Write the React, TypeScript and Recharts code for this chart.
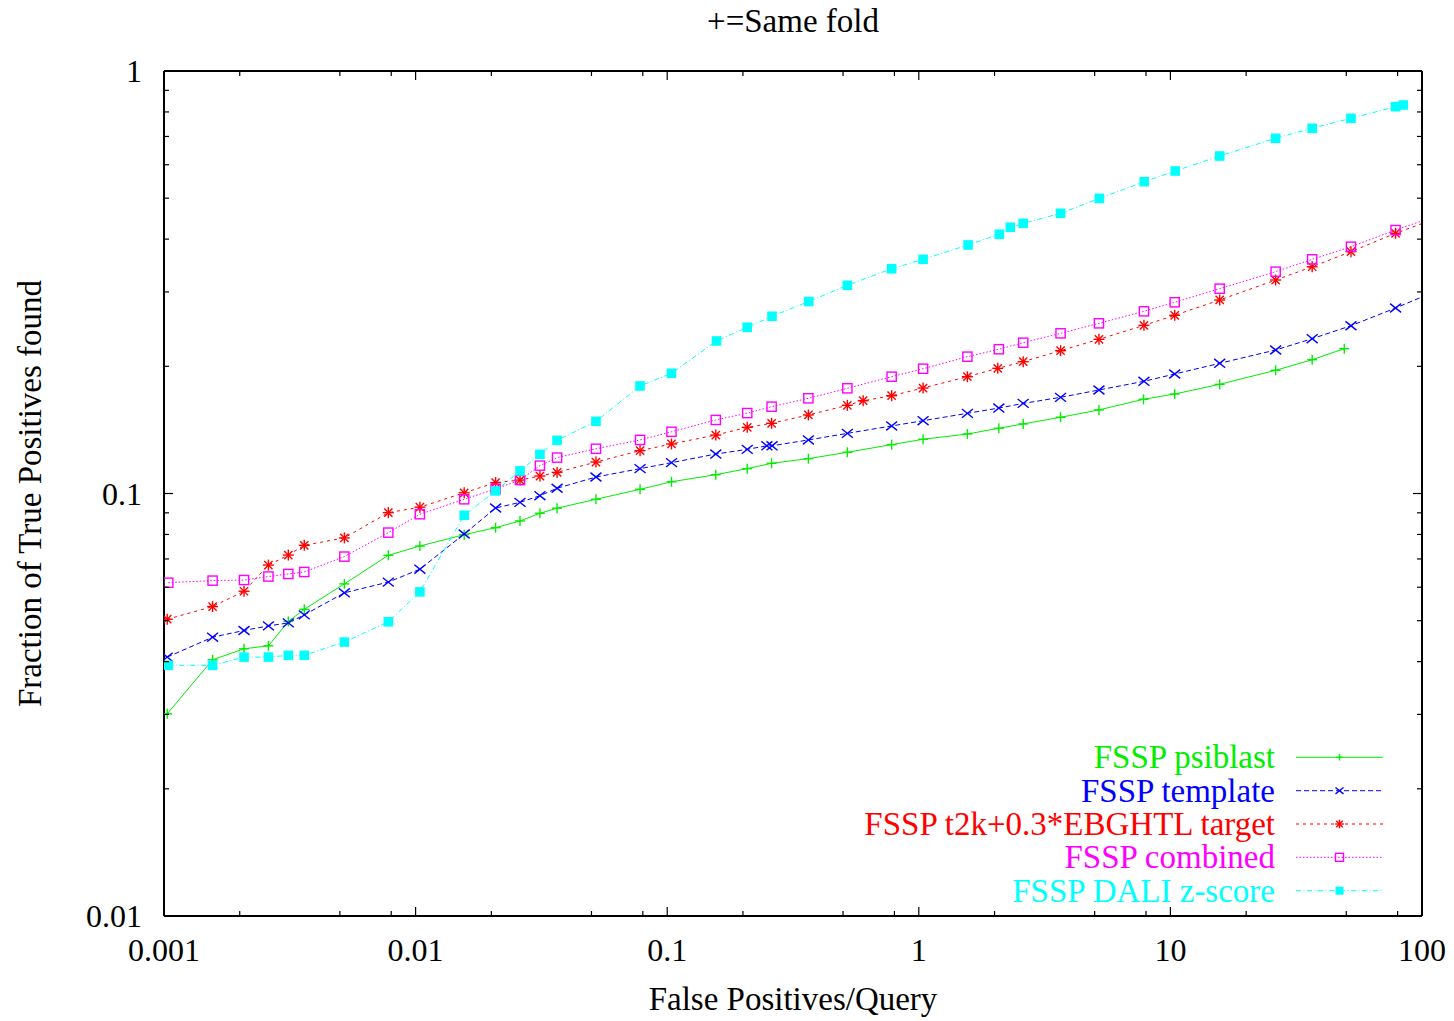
import React from 'react';
import { LineChart, Line, XAxis, YAxis, Legend } from 'recharts';

const FONT = '"Liberation Serif", "Times New Roman", Times, serif';

// ---------- data ----------
const psiblastX = [0.00103, 0.00156, 0.00208, 0.0026, 0.00312, 0.00361, 0.00521, 0.00779, 0.0104, 0.0156, 0.0208, 0.026, 0.0312, 0.0365, 0.0521, 0.078, 0.104, 0.156, 0.208, 0.26, 0.364, 0.52, 0.78, 1.04, 1.56, 2.08, 2.6, 3.66, 5.2, 7.82, 10.4, 15.7, 26.2, 36.6, 49.1];
const psiblastY = [0.0301, 0.0404, 0.0429, 0.0436, 0.0498, 0.0532, 0.0611, 0.0714, 0.0751, 0.0799, 0.083, 0.0861, 0.0898, 0.0923, 0.0969, 0.1023, 0.1066, 0.1108, 0.1145, 0.1179, 0.1209, 0.1252, 0.1305, 0.1344, 0.1383, 0.1427, 0.1461, 0.1515, 0.1577, 0.1671, 0.172, 0.1813, 0.1957, 0.2073, 0.2202];

const templateX = [0.00103, 0.00156, 0.00208, 0.0026, 0.00312, 0.00361, 0.00521, 0.00779, 0.0104, 0.0156, 0.0208, 0.026, 0.0312, 0.0365, 0.0521, 0.078, 0.104, 0.156, 0.208, 0.249, 0.261, 0.364, 0.52, 0.78, 1.04, 1.56, 2.08, 2.6, 3.66, 5.2, 7.85, 10.4, 15.7, 26.2, 36.6, 52.2, 78.5, 150];
const templateY = [0.041, 0.0457, 0.0474, 0.0486, 0.0494, 0.0516, 0.0582, 0.0617, 0.0662, 0.0802, 0.0924, 0.0953, 0.0988, 0.1029, 0.1094, 0.1145, 0.1183, 0.124, 0.1272, 0.1297, 0.1297, 0.1339, 0.1388, 0.1445, 0.1487, 0.1548, 0.1593, 0.1634, 0.1689, 0.1758, 0.1843, 0.1918, 0.2033, 0.2186, 0.2325, 0.2495, 0.2748, 0.323];

const targetX = [0.00103, 0.00156, 0.00208, 0.0026, 0.00312, 0.00361, 0.00521, 0.00779, 0.0104, 0.0156, 0.0208, 0.026, 0.0312, 0.0365, 0.0521, 0.078, 0.104, 0.156, 0.208, 0.26, 0.364, 0.52, 0.601, 0.78, 1.04, 1.56, 2.06, 2.6, 3.66, 5.2, 7.85, 10.4, 15.7, 26.2, 36.6, 52.2, 78.5, 150];
const targetY = [0.0504, 0.054, 0.0587, 0.0677, 0.0715, 0.0754, 0.0785, 0.0901, 0.0928, 0.1004, 0.1061, 0.1076, 0.11, 0.1122, 0.1187, 0.1263, 0.131, 0.1375, 0.1434, 0.1466, 0.1534, 0.1617, 0.1658, 0.1704, 0.1777, 0.189, 0.1978, 0.2051, 0.2178, 0.2317, 0.25, 0.2641, 0.2871, 0.3201, 0.3441, 0.3736, 0.4129, 0.476];

const combinedX = [0.00104, 0.00156, 0.00208, 0.0026, 0.00312, 0.00361, 0.00521, 0.00779, 0.0104, 0.0156, 0.0208, 0.026, 0.0312, 0.0365, 0.0521, 0.078, 0.104, 0.156, 0.208, 0.26, 0.364, 0.52, 0.78, 1.04, 1.56, 2.08, 2.6, 3.66, 5.2, 7.85, 10.4, 15.7, 26.2, 36.6, 52.2, 78.5, 150];
const combinedY = [0.0615, 0.0622, 0.0624, 0.0636, 0.0645, 0.0652, 0.0709, 0.0808, 0.0893, 0.0969, 0.1025, 0.1076, 0.1164, 0.1216, 0.1276, 0.1339, 0.14, 0.1493, 0.155, 0.1605, 0.168, 0.1774, 0.189, 0.1974, 0.2108, 0.2195, 0.2275, 0.2394, 0.2528, 0.2699, 0.2835, 0.3053, 0.335, 0.3583, 0.3838, 0.4203, 0.48];

const daliX = [0.00104, 0.00156, 0.00208, 0.0026, 0.00312, 0.00361, 0.00521, 0.00779, 0.0104, 0.0156, 0.0208, 0.026, 0.0312, 0.0365, 0.0521, 0.078, 0.104, 0.157, 0.208, 0.261, 0.365, 0.52, 0.78, 1.04, 1.57, 2.09, 2.31, 2.6, 3.66, 5.22, 7.87, 10.45, 15.7, 26.2, 36.6, 52.2, 78.5, 84.3];
const daliY = [0.0392, 0.0392, 0.041, 0.041, 0.0414, 0.0414, 0.0445, 0.0497, 0.0585, 0.0888, 0.1014, 0.1131, 0.1238, 0.1336, 0.1482, 0.1797, 0.1925, 0.2296, 0.2474, 0.2627, 0.2847, 0.311, 0.3404, 0.3583, 0.3875, 0.4108, 0.4267, 0.436, 0.4604, 0.4995, 0.547, 0.5798, 0.6292, 0.693, 0.7318, 0.7727, 0.8233, 0.831];

const xTicks = [0.001, 0.002, 0.005, 0.008, 0.01, 0.02, 0.05, 0.08, 0.1, 0.2, 0.5, 0.8, 1, 2, 5, 8, 10, 20, 50, 80, 100];
const xMajor = [0.001, 0.01, 0.1, 1, 10, 100];
const xMajorLabels = ['0.001', '0.01', '0.1', '1', '10', '100'];
const yTicks = [0.01, 0.02, 0.03, 0.04, 0.05, 0.06, 0.07, 0.08, 0.09, 0.1, 0.2, 0.3, 0.4, 0.5, 0.6, 0.7, 0.8, 0.9, 1];
const yMajor = [0.01, 0.1, 1];
const yMajorLabels = ['0.01', '0.1', '1'];

const zip = (xs: number[], ys: number[]) => xs.map((x, i) => ({ x, y: ys[i] }));

type Shape = 'plus' | 'cross' | 'star' | 'box' | 'fbox';

const series = [
  { name: 'FSSP psiblast', color: '#00ee00', dash: undefined as string | undefined, shape: 'plus' as Shape, size: 5, legendSize: 3.2, data: zip(psiblastX, psiblastY) },
  { name: 'FSSP template', color: '#0000ff', dash: '5 3', shape: 'cross' as Shape, size: 5.5, legendSize: 4, data: zip(templateX, templateY) },
  { name: 'FSSP t2k+0.3*EBGHTL target', color: '#ff0000', dash: '3 4', shape: 'star' as Shape, size: 5.5, legendSize: 4.3, data: zip(targetX, targetY) },
  { name: 'FSSP combined', color: '#ff00ff', dash: '1.5 2', shape: 'box' as Shape, size: 4.6, legendSize: 4, data: zip(combinedX, combinedY) },
  { name: 'FSSP DALI z-score', color: '#00ffff', dash: '5 2.5 1 2.5', shape: 'fbox' as Shape, size: 4.8, legendSize: 4, data: zip(daliX, daliY) },
];

// ---------- markers ----------
const Marker = ({ shape, cx, cy, s, color }: { shape: Shape; cx: number; cy: number; s: number; color: string }) => {
  const sw = 1.4;
  if (shape === 'plus') {
    return (
      <g stroke={color} strokeWidth={sw}>
        <line x1={cx - s} y1={cy} x2={cx + s} y2={cy} />
        <line x1={cx} y1={cy - s} x2={cx} y2={cy + s} />
      </g>
    );
  }
  if (shape === 'cross') {
    return (
      <g stroke={color} strokeWidth={sw}>
        <line x1={cx - s} y1={cy - s * 0.8} x2={cx + s} y2={cy + s * 0.8} />
        <line x1={cx - s} y1={cy + s * 0.8} x2={cx + s} y2={cy - s * 0.8} />
      </g>
    );
  }
  if (shape === 'star') {
    const d = s * 0.75;
    return (
      <g stroke={color} strokeWidth={sw}>
        <line x1={cx - s} y1={cy} x2={cx + s} y2={cy} />
        <line x1={cx} y1={cy - s} x2={cx} y2={cy + s} />
        <line x1={cx - d} y1={cy - d} x2={cx + d} y2={cy + d} />
        <line x1={cx - d} y1={cy + d} x2={cx + d} y2={cy - d} />
      </g>
    );
  }
  if (shape === 'box') {
    return <rect x={cx - s} y={cy - s} width={2 * s} height={2 * s} fill="none" stroke={color} strokeWidth={sw} />;
  }
  return <rect x={cx - s} y={cy - s} width={2 * s} height={2 * s} fill={color} stroke="none" />;
};

const makeDot = (shape: Shape, color: string, s: number) => (props: any) => {
  const { cx, cy, index, payload } = props;
  if (cx == null || cy == null || !payload || payload.x > 100 || payload.x < 0.001) {
    return <g key={`e${index}`} />;
  }
  return (
    <g key={`d${index}`}>
      <Marker shape={shape} cx={cx} cy={cy} s={s} color={color} />
    </g>
  );
};

// ---------- ticks ----------
const TICK_W = 1.2;
const MAJ = 9;
const MIN = 5;

const BottomTick = (props: any) => {
  const { x, y, payload } = props;
  const i = xMajor.indexOf(payload.value);
  const len = i >= 0 ? MAJ : MIN;
  return (
    <g>
      <line x1={x} y1={y} x2={x} y2={y - len} stroke="#000" strokeWidth={TICK_W} />
      {i >= 0 && (
        <text x={x} y={y + 45} textAnchor="middle" fontFamily={FONT} fontSize={32} fill="#000">
          {xMajorLabels[i]}
        </text>
      )}
    </g>
  );
};

const TopTick = (props: any) => {
  const { x, y, payload } = props;
  const len = xMajor.indexOf(payload.value) >= 0 ? MAJ : MIN;
  return <line x1={x} y1={y} x2={x} y2={y + len} stroke="#000" strokeWidth={TICK_W} />;
};

const LeftTick = (props: any) => {
  const { x, y, payload } = props;
  const i = yMajor.indexOf(payload.value);
  const len = i >= 0 ? MAJ : MIN;
  return (
    <g>
      <line x1={x} y1={y} x2={x + len} y2={y} stroke="#000" strokeWidth={TICK_W} />
      {i >= 0 && (
        <text x={x - 22} y={y + 11} textAnchor="end" fontFamily={FONT} fontSize={32} fill="#000">
          {yMajorLabels[i]}
        </text>
      )}
    </g>
  );
};

const RightTick = (props: any) => {
  const { x, y, payload } = props;
  const len = yMajor.indexOf(payload.value) >= 0 ? MAJ : MIN;
  return <line x1={x} y1={y} x2={x - len} y2={y} stroke="#000" strokeWidth={TICK_W} />;
};

// ---------- titles ----------
const TITLE_SIZE = 33;

const BottomTitle = (props: any) => {
  const vb = props.viewBox || { x: 164, y: 916, width: 1258 };
  return (
    <text x={vb.x + vb.width / 2} y={vb.y + 94} textAnchor="middle" fontFamily={FONT} fontSize={TITLE_SIZE} fill="#000">
      False Positives/Query
    </text>
  );
};

const TopTitle = (props: any) => {
  const vb = props.viewBox || { x: 164, y: 61, width: 1258, height: 10 };
  return (
    <text x={vb.x + vb.width / 2} y={vb.y + vb.height - 39} textAnchor="middle" fontFamily={FONT} fontSize={TITLE_SIZE} fill="#000">
      +=Same fold
    </text>
  );
};

const LeftTitle = (props: any) => {
  const vb = props.viewBox || { x: 84, y: 71, width: 80, height: 845 };
  const cx = vb.x + vb.width - 123;
  const cy = vb.y + vb.height / 2;
  return (
    <text x={cx} y={cy} transform={`rotate(-90 ${cx} ${cy})`} textAnchor="middle" fontFamily={FONT} fontSize={TITLE_SIZE} fill="#000">
      Fraction of True Positives found
    </text>
  );
};

// ---------- legend ----------
const legendRowY = [757.3, 790.7, 824, 857.3, 890.7];
const LegendBox = () => (
  <svg width={1454} height={1021} style={{ position: 'absolute', left: 0, top: 0, overflow: 'visible' }}>
    {series.map((s, i) => {
      const cy = legendRowY[i];
      return (
        <g key={s.name}>
          <text x={1275} y={cy + 11} textAnchor="end" fontFamily={FONT} fontSize={TITLE_SIZE} fill={s.color}>
            {s.name}
          </text>
          <line x1={1296} y1={cy} x2={1383} y2={cy} stroke={s.color} strokeWidth={1} strokeDasharray={s.dash} />
          <Marker shape={s.shape} cx={1339.5} cy={cy} s={s.legendSize} color={s.color} />
        </g>
      );
    })}
  </svg>
);

export default function App() {
  return (
    <div style={{ position: 'absolute', left: 0, top: 0, width: 1454, height: 1021, background: '#fff' }}>
      <LineChart width={1454} height={1021} margin={{ top: 61, right: 22, bottom: 45, left: 84 }}>
        <XAxis
          xAxisId="b"
          orientation="bottom"
          type="number"
          dataKey="x"
          scale="log"
          domain={[0.001, 100]}
          allowDataOverflow
          ticks={xTicks}
          interval={0}
          tick={<BottomTick />}
          tickLine={false}
          tickSize={0}
          tickMargin={0}
          axisLine={{ stroke: '#000', strokeWidth: 2 }}
          height={60}
          label={<BottomTitle />}
        />
        <XAxis
          xAxisId="t"
          orientation="top"
          type="number"
          dataKey="x"
          scale="log"
          domain={[0.001, 100]}
          allowDataOverflow
          ticks={xTicks}
          interval={0}
          tick={<TopTick />}
          tickLine={false}
          tickSize={0}
          tickMargin={0}
          axisLine={{ stroke: '#000', strokeWidth: 2 }}
          height={10}
          label={<TopTitle />}
        />
        <YAxis
          yAxisId="l"
          orientation="left"
          type="number"
          dataKey="y"
          scale="log"
          domain={[0.01, 1]}
          allowDataOverflow
          ticks={yTicks}
          interval={0}
          tick={<LeftTick />}
          tickLine={false}
          tickSize={0}
          tickMargin={0}
          axisLine={{ stroke: '#000', strokeWidth: 2 }}
          width={80}
          label={<LeftTitle />}
        />
        <YAxis
          yAxisId="r"
          orientation="right"
          type="number"
          dataKey="y"
          scale="log"
          domain={[0.01, 1]}
          allowDataOverflow
          ticks={yTicks}
          interval={0}
          tick={<RightTick />}
          tickLine={false}
          tickSize={0}
          tickMargin={0}
          axisLine={{ stroke: '#000', strokeWidth: 2 }}
          width={10}
        />
        {series.map((s) => (
          <Line
            key={s.name}
            xAxisId="b"
            yAxisId="l"
            data={s.data}
            dataKey="y"
            name={s.name}
            type="linear"
            stroke={s.color}
            strokeWidth={1}
            strokeDasharray={s.dash}
            dot={makeDot(s.shape, s.color, s.size)}
            activeDot={false}
            isAnimationActive={false}
          />
        ))}
        <Legend
          layout="vertical"
          align="center"
          verticalAlign="middle"
          content={() => <LegendBox />}
          wrapperStyle={{ left: 0, top: 0, width: 1454, height: 1021, pointerEvents: 'none' }}
        />
      </LineChart>
    </div>
  );
}
